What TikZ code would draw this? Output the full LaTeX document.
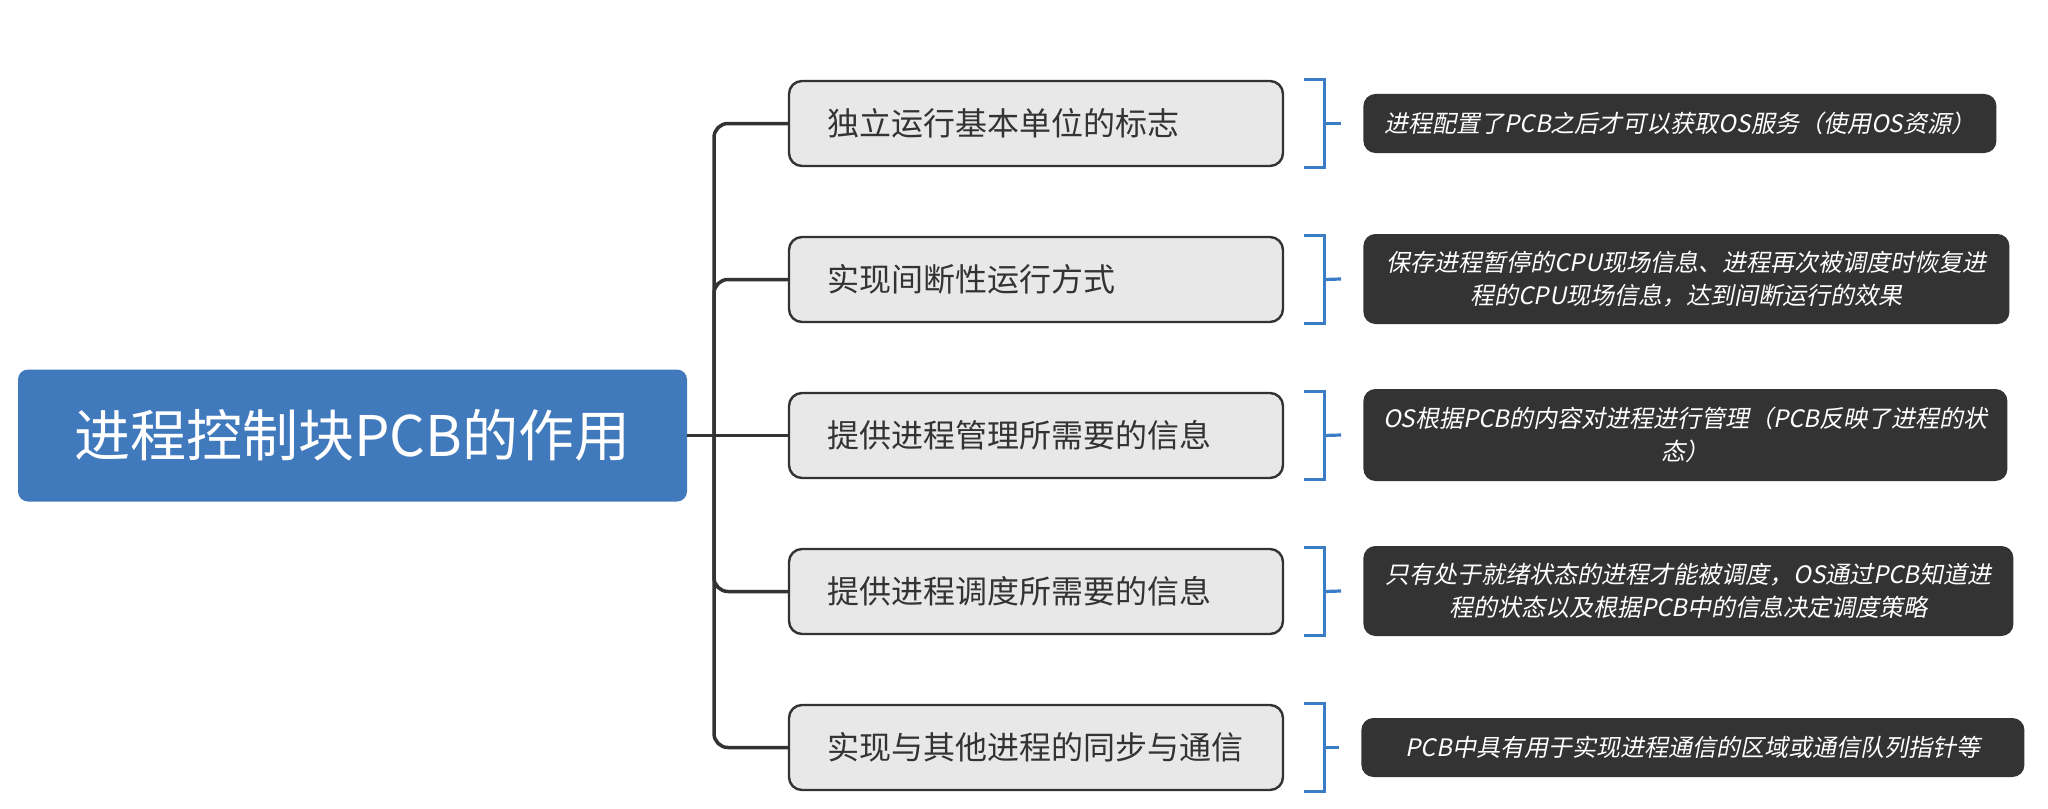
\documentclass[tikz,border=0pt]{standalone}
\usepackage{fontspec}
\setmainfont{Noto Sans CJK SC}
\newfontfamily\cjkit[FakeSlant=0.2]{Noto Sans CJK SC}
\definecolor{rootblue}{HTML}{4179BD}
\definecolor{boxgray}{HTML}{E8E8E8}
\definecolor{linedark}{HTML}{333333}
\definecolor{brkblue}{HTML}{3A7CC6}
\tikzset{
  rootbox/.style={draw=none, fill=rootblue, rounded corners=5pt, minimum width=334.5pt, minimum height=66pt, inner sep=0pt, text=white, font=\fontsize{28}{32}\selectfont},
  childbox/.style={draw=linedark, line width=1.2pt, fill=boxgray, rounded corners=6.5pt, minimum height=42.5pt, inner xsep=19pt, inner ysep=0pt, text=linedark, font=\fontsize{16}{19}\selectfont},
  notebox/.style={draw=none, fill=linedark, rounded corners=6pt, inner sep=0pt, text=white, align=center, anchor=west, font=\cjkit\fontsize{12}{16.5}\selectfont},
  conn/.style={draw=linedark, line width=1.75pt, rounded corners=7pt},
  brk/.style={draw=brkblue, line width=1.6pt}
}
\newcommand{\ctext}[1]{\makebox[209pt][l]{#1}}
\begin{document}
\begin{tikzpicture}[x=0.5pt,y=-0.5pt]
\useasboundingbox (0,0) rectangle (2048,808);
\node[rootbox] (root) at (352.5,435.5) {进程控制块PCB的作用};
\node[childbox] (c1) at (1036,123.5) {\ctext{独立运行基本单位的标志}};
\node[childbox] (c2) at (1036,279.5) {\ctext{实现间断性运行方式}};
\node[childbox] (c3) at (1036,435.5) {\ctext{提供进程管理所需要的信息}};
\node[childbox] (c4) at (1036,591.5) {\ctext{提供进程调度所需要的信息}};
\node[childbox] (c5) at (1036,747.5) {\ctext{实现与其他进程的同步与通信}};
\node[notebox, minimum width=316.5pt, minimum height=29.5pt] (d1) at (1363,123.5) {进程配置了PCB之后才可以获取OS服务（使用OS资源）};
\node[notebox, minimum width=323pt, minimum height=45pt] (d2) at (1363,279) {保存进程暂停的CPU现场信息、进程再次被调度时恢复进\\程的CPU现场信息，达到间断运行的效果};
\node[notebox, minimum width=322pt, minimum height=46pt] (d3) at (1363,435) {OS根据PCB的内容对进程进行管理（PCB反映了进程的状\\态）};
\node[notebox, minimum width=325pt, minimum height=45pt] (d4) at (1363,591) {只有处于就绪状态的进程才能被调度，OS通过PCB知道进\\程的状态以及根据PCB中的信息决定调度策略};
\node[notebox, minimum width=331.5pt, minimum height=29.5pt] (d5) at (1361,747.5) {PCB中具有用于实现进程通信的区域或通信队列指针等};
\coordinate (hub) at (714,435.5);
\draw[conn] (root.east) -- (c3.west);
\draw[conn] (hub) |- (c1.west);
\draw[conn] (hub) |- (c2.west);
\draw[conn] (hub) |- (c4.west);
\draw[conn] (hub) |- (c5.west);
\foreach \i in {1,...,5}{
  \draw[brk] ([xshift=10pt]c\i.north east) -| ([xshift=20pt]c\i.south east) -- ([xshift=10pt]c\i.south east);
  \draw[brk] ([xshift=20pt]c\i.east) -- ([xshift=-11pt]d\i.west);
}
\end{tikzpicture}
\end{document}
